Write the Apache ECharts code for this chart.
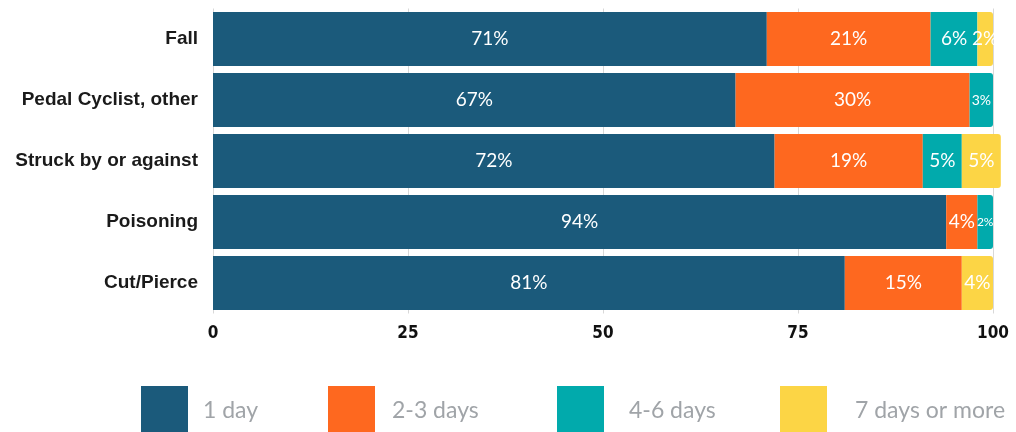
<!DOCTYPE html>
<html>
<head>
<meta charset="utf-8">
<script src="https://cdn.jsdelivr.net/npm/echarts@6/dist/echarts.min.js"></script>
<style>html,body{margin:0;padding:0;background:#fff}#c{width:1016px;height:432px}</style>
</head>
<body>
<div id="c"></div>
<script>
const categories = ['Fall', 'Pedal Cyclist, other', 'Struck by or against', 'Poisoning', 'Cut/Pierce'];
const seriesNames = ['1 day', '2-3 days', '4-6 days', '7 days or more'];
const oneDay = [71, 67, 72, 94, 81];
const twoThreeDays = [21, 30, 19, 4, 15];
const fourSixDays = [6, 3, 5, 2, 0];
const sevenPlus = [2, 0, 5, 0, 4];
const xTicks = [0, 25, 50, 75, 100];
const colors = ['#1b5a7b', '#fe681f', '#01aaac', '#fcd545'];

const allValues = [oneDay, twoThreeDays, fourSixDays, sevenPlus];

const lastIdx = categories.map((_, ci) => {
  let l = 0;
  allValues.forEach((arr, si) => { if (arr[ci] > 0) l = si; });
  return l;
});

function fontFor(v, ci) {
  if (v <= 2 && ci === 3) return 12;
  if (v <= 3 && ci === 1) return 14;
  return 19;
}

const series = allValues.map((arr, si) => ({
  name: seriesNames[si],
  type: 'bar',
  stack: 'total',
  barWidth: 54,
  clip: false,
  itemStyle: { color: colors[si] },
  data: arr.map((v, ci) => ({
    value: v,
    itemStyle: { borderRadius: lastIdx[ci] === si ? [0, 3, 3, 0] : 0 },
    label: { fontSize: fontFor(v, ci) }
  })),
  label: {
    show: true,
    position: 'inside',
    color: '#ffffff',
    fontFamily: 'Lato',
    fontSize: 19,
    formatter: p => (p.value > 0 ? p.value + '%' : '')
  }
}));

const legendLefts = [141, 328, 557, 780];
const legendTextPad = [10, 12, 20, 23];
const legends = seriesNames.map((n, i) => ({
  data: [n],
  left: legendLefts[i],
  top: 386,
  padding: 0,
  orient: 'horizontal',
  icon: 'rect',
  itemWidth: 47,
  itemHeight: 50,
  itemGap: 0,
  selectedMode: false,
  textStyle: { color: '#a0a4a8', fontFamily: 'Lato', fontSize: 23, padding: [0, 0, 0, legendTextPad[i]] }
}));

const chart = echarts.init(document.getElementById('c'), null, { renderer: 'canvas' });
chart.setOption({
  animation: false,
  color: colors,
  grid: { left: 213, right: 23, top: 8.5, height: 305, containLabel: false },
  legend: legends,
  xAxis: {
    type: 'value',
    min: 0,
    max: 100,
    interval: 25,
    axisLine: { show: false },
    axisTick: { show: false },
    splitLine: { show: true, lineStyle: { color: '#d8d8d8', width: 1 } },
    axisLabel: {
      margin: 12,
      color: '#111',
      fontWeight: 'bold',
      fontSize: 17,
      fontFamily: 'DejaVu Sans Condensed, Liberation Sans Narrow, Arial',
      formatter: v => (xTicks.indexOf(v) >= 0 ? String(v) : '')
    }
  },
  yAxis: {
    type: 'category',
    data: categories,
    inverse: true,
    axisLine: { show: false },
    axisTick: { show: false },
    splitLine: { show: false },
    axisLabel: {
      margin: 15,
      color: '#1a1a1a',
      fontWeight: 'bold',
      fontSize: 19,
      fontFamily: 'Liberation Sans, Arial'
    }
  },
  series: series
});
</script>
</body>
</html>
